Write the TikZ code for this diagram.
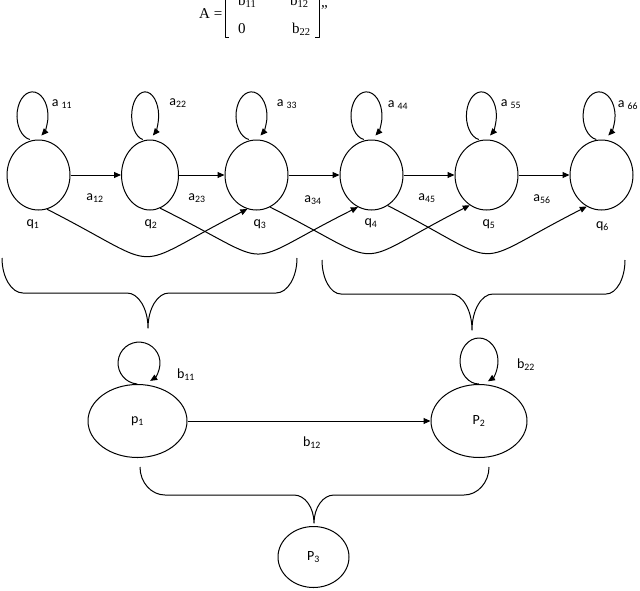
\documentclass[tikz,border=0pt]{standalone}
\usepackage{fontspec}
\setmainfont{Carlito}
\newfontfamily\timesfont{Liberation Serif}
\usetikzlibrary{shapes.geometric,arrows.meta}
\newcommand{\Edge}{1pt}
\newcommand{\Thin}{0.7pt}
\definecolor{ink}{HTML}{000000}

\begin{document}
\begin{tikzpicture}[x=1pt,y=-1pt, line join=round,
  >={Triangle[length=7pt,width=6pt]},
  state/.style={ellipse,draw=ink,line width=\Edge,inner sep=0pt,font=\fontsize{14}{16}\selectfont},
  lbl/.style={inner sep=0pt,font=\fontsize{14}{16}\selectfont},
  mtx/.style={inner sep=0pt,font=\timesfont\fontsize{15}{18}\selectfont},
  link/.style={->,draw=ink,line width=\Edge}]

  \useasboundingbox (0,0) rectangle (640,590);
  \clip (0,0) rectangle (640,590);

  % ---- the matrix, cut off at the top -------------------------------------
  \node[mtx,anchor=base west] (lhs) at (199,18) {A =};
  \node[mtx,anchor=base west] (m11) at (238,5) {b\textsubscript{11}};
  \node[mtx,anchor=base west] (m12) at (290,5) {b\textsubscript{12}};
  \node[mtx,anchor=base west] (m21) at (238,33) {0};
  \node[mtx,anchor=base west] (m22) at (292,33) {b\textsubscript{22}};
  \node[mtx,anchor=base west] (quote) at (321,15) {”};
  \draw[ink,line width=\Thin] (229,-30) -- (225,-30) -- (225,37) -- (229,37);
  \draw[ink,line width=\Thin] (315,-30) -- (319,-30) -- (319,37) -- (315,37);

  % ---- six states in a row ------------------------------------------------
  \foreach \n/\x/\w in {1/38.5/63, 2/150/57, 3/256.5/63, 4/371.5/63, 5/486.5/63, 6/601.5/63}
    \node[state,minimum width=\w pt,minimum height=70pt] (q\n) at (\x,175) {};
  \foreach \n/\x/\y in {1/33/224, 2/151/224, 3/260/224, 4/371/223, 5/489/224, 6/602.5/226}
    \node[lbl] (ql\n) at (\x,\y) {q\textsubscript{\n}};

  % self loops over each state
  \foreach \n/\s/\r/\txt/\x/\y in {1/-8.7/15.5/{a \textsubscript{11}}/62/104,
                                  2/-7.2/13.5/{a\textsubscript{22}}/178/103,
                                  3/-7.7/15.5/{a \textsubscript{33}}/287/104,
                                  4/-7.7/15.5/{a \textsubscript{44}}/398/105,
                                  5/-7.7/15/{a \textsubscript{55}}/511/104,
                                  6/-5.2/16/{a \textsubscript{66}}/628/105} {
    \draw[link] ([xshift=\s pt]q\n.north) arc[start angle=260, end angle=-55, x radius=\r pt, y radius=24pt];
    \node[lbl] (al\n) at (\x,\y) {\txt};
  }

  % one step forward
  \foreach \i/\j/\x/\y in {1/2/95/198, 2/3/197/198, 3/4/313/200, 4/5/427/198, 5/6/542/199} {
    \draw[link] (q\i) -- (q\j);
    \node[lbl] (a\i\j) at (\x,\y) {a\textsubscript{\i\j}};
  }

  % two steps forward, below the row
  \draw[link] (q1.-76) .. controls (170,272) and (124,272) .. (q3.-105);
  \draw[link] (q2.-73) .. controls (283,269) and (234,269) .. (q4.-113);
  \draw[link] (q3.-67) .. controls (393,269) and (345,269) .. (q5.-119);
  \draw[link] (q4.-62) .. controls (511,269) and (464,269) .. (q6.-115);

  % ---- braces -------------------------------------------------------------
  \foreach \l/\r/\t/\b/\m/\p/\c/\h in {2/297/258/293/148/328/21/21,
                                      322/625/260/294/472/330/19/21,
                                      140/489/467/495/314/523/25/20}
    \draw[ink,line width=\Edge]
      (\l,\t) .. controls (\l,{\t+0.55*(\b-\t)}) and ({\l+0.45*\c},\b) .. ({\l+\c},\b)
      -- ({\m-\h},\b) .. controls ({\m-0.45*\h},\b) and (\m,{\p-0.55*(\p-\b)}) .. (\m,\p)
      .. controls (\m,{\p-0.55*(\p-\b)}) and ({\m+0.45*\h},\b) .. ({\m+\h},\b)
      -- ({\r-\c},\b) .. controls ({\r-0.45*\c},\b) and (\r,{\t+0.55*(\b-\t)}) .. (\r,\t);

  % ---- the two merged states and the last one -----------------------------
  \node[state,minimum width=99pt,minimum height=73pt] (p1) at (137.5,421) {p\textsubscript{1}\hspace{8pt}};
  \node[state,minimum width=96pt,minimum height=73pt] (p2) at (479,421) {P\textsubscript{2}\hspace{8pt}};
  \node[state,minimum width=71pt,minimum height=61pt] (p3) at (313.5,557) {P\textsubscript{3}};

  \draw[link] ([xshift=-0.3pt]p1.north) arc[start angle=265, end angle=-58, x radius=21pt, y radius=21pt];
  \draw[link] (p2.north) arc[start angle=270, end angle=-62, x radius=19pt, y radius=23pt];
  \node[lbl] (bl1) at (186,375) {b\textsubscript{11}};
  \node[lbl] (bl2) at (526,365) {b\textsubscript{22}};

  \draw[link] (p1) -- (p2);
  \node[lbl] (b12) at (312,443) {b\textsubscript{12}};

\end{tikzpicture}
\end{document}
